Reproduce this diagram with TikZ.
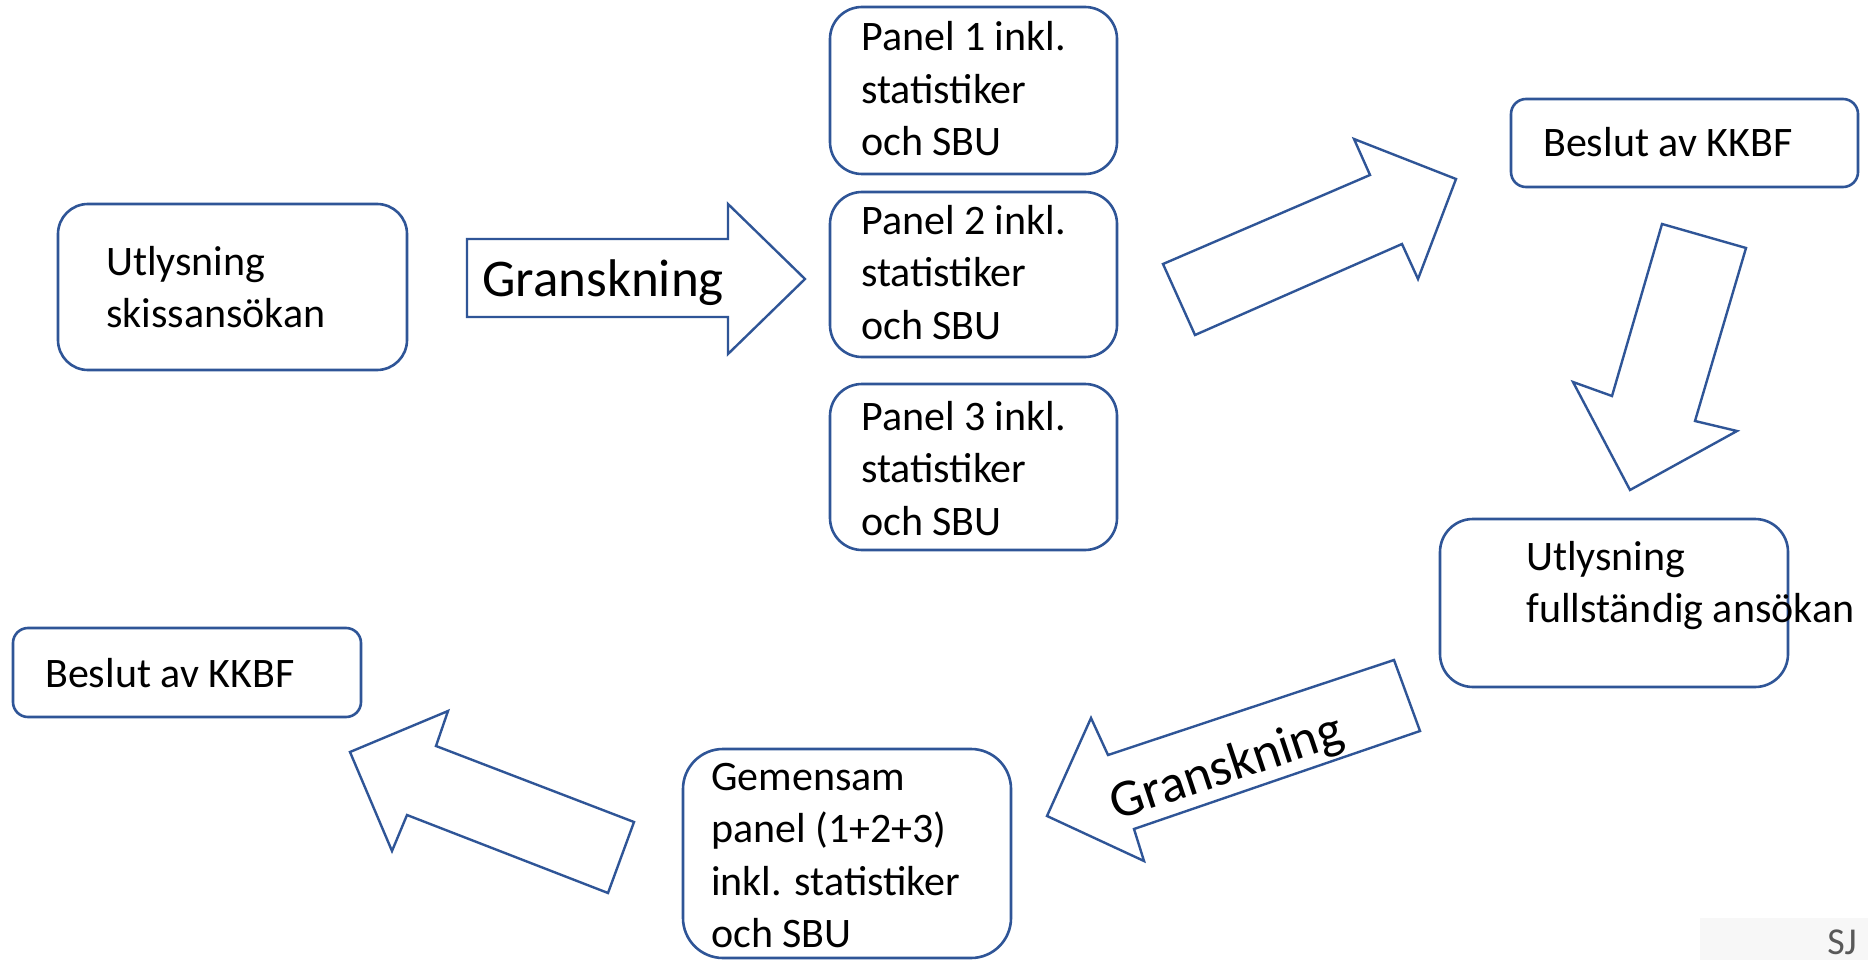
\documentclass[tikz,border=0pt]{standalone}
\usepackage{fontspec}
\setmainfont{Carlito}
\definecolor{lineblue}{HTML}{2F5597}
\definecolor{sjgray}{HTML}{595959}
\definecolor{sjbg}{HTML}{F7F7F7}
\begin{document}
\begin{tikzpicture}[x=1pt,y=-1pt,
  box/.style={draw=lineblue, line width=2.6pt, fill=white},
  blockarrow/.style={draw=lineblue, line width=2.4pt, fill=white, line join=miter},
  txt/.style={inner sep=0pt, anchor=base west, align=left, font=\fontsize{42}{52.5}\selectfont},
  bigtxt/.style={inner sep=0pt, font=\fontsize{53}{64}\selectfont}]
\useasboundingbox (0,0) rectangle (1868,960);
\fill[white] (0,0) rectangle (1868,960);

% boxes (text anchor = baseline of the last line)
\draw[box, rounded corners=30pt] (58,204) rectangle (407,370);
\node[txt] (t1) at (106,327.5) {Utlysning\\skissansökan};

\draw[box, rounded corners=32pt] (830,7) rectangle (1117,174);
\node[txt] (p1) at (861,156) {Panel 1 inkl.\\statistiker\\och SBU};
\draw[box, rounded corners=32pt] (830,192) rectangle (1117,357);
\node[txt] (p2) at (861,339) {Panel 2 inkl.\\statistiker\\och SBU};
\draw[box, rounded corners=32pt] (830,384) rectangle (1117,550);
\node[txt] (p3) at (861,535) {Panel 3 inkl.\\statistiker\\och SBU};

\draw[box, rounded corners=15pt] (1511,99) rectangle (1858,187);
\node[txt] (k1) at (1543,157) {Beslut av KKBF};

\draw[box, rounded corners=33pt] (1440,519) rectangle (1788,687);
\node[txt] (u2) at (1526,622.5) {Utlysning\\fullständig ansökan};

\draw[box, rounded corners=40pt] (683,749) rectangle (1011,958);
\node[txt] (g1) at (711,947.5) {Gemensam\\panel (1+2+3)\\inkl. statistiker\\och SBU};

\draw[box, rounded corners=15pt] (13,628) rectangle (361,717);
\node[txt] (k2) at (45,687) {Beslut av KKBF};

% block arrows
\draw[blockarrow] (467,239) -- (728,239) -- (728,204) -- (805,279) -- (728,354) -- (728,317) -- (467,317) -- cycle;
\node[bigtxt, anchor=base west] (gr1) at (482,296) {Granskning};

\draw[blockarrow] (1163,264) -- (1370,175) -- (1354,139) -- (1456,179) -- (1418,279) -- (1402,244) -- (1195,335) -- cycle;

\draw[blockarrow] (1662,224) -- (1612,396) -- (1573,382) -- (1630,490) -- (1737,431) -- (1695,421) -- (1746,248) -- cycle;

\draw[blockarrow] (1394,660) -- (1108,755) -- (1091,718) -- (1047,816) -- (1144,861) -- (1134,829) -- (1420,731) -- cycle;
\node[bigtxt, rotate=18.4] (gr2) at (1227,769) {Granskning};

\draw[blockarrow] (634,822) -- (436,746) -- (448,711) -- (350,752) -- (392,851) -- (407,815) -- (608,893) -- cycle;

% SJ mark
\fill[sjbg] (1700,918) rectangle (1868,960);
\node[inner sep=0pt, anchor=base east, text=sjgray, font=\fontsize{38}{40}\selectfont] (sj) at (1857,954) {SJ};
\end{tikzpicture}
\end{document}
